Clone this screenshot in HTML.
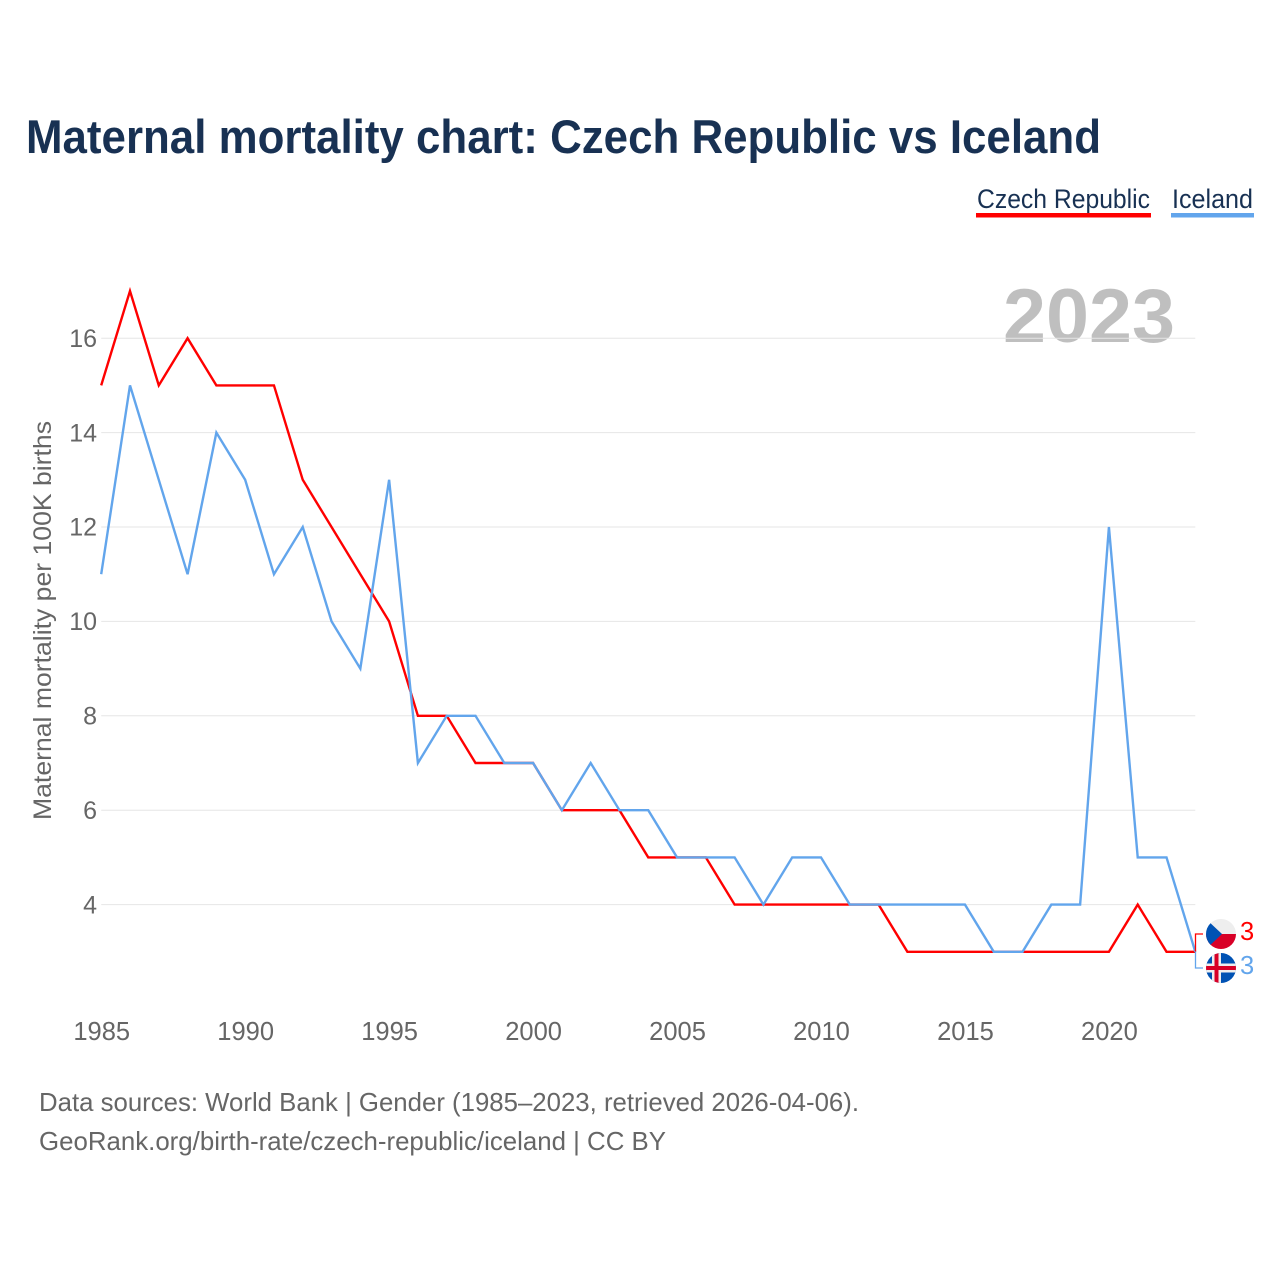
<!DOCTYPE html>
<html>
<head>
<meta charset="utf-8">
<title>Maternal mortality chart: Czech Republic vs Iceland</title>
<style>
html,body{margin:0;padding:0;background:#fff;}
svg{display:block;font-family:"Liberation Sans",sans-serif;}
</style>
</head>
<body>
<svg id="chart" width="1280" height="1280" viewBox="0 0 1280 1280" xmlns="http://www.w3.org/2000/svg">
  <defs>
    <clipPath id="flag-clip-cz"><circle cx="1221" cy="934" r="15"/></clipPath>
    <clipPath id="flag-clip-is"><circle cx="1221" cy="968" r="15"/></clipPath>
  </defs>
  <rect width="1280" height="1280" fill="#fff"/>
  <text x="26" y="153" font-size="47" font-weight="700" fill="#183153" textLength="1075" lengthAdjust="spacingAndGlyphs">Maternal mortality chart: Czech Republic vs Iceland</text>

  <g>
    <text x="977" y="208" font-size="27" fill="#183153" textLength="173" lengthAdjust="spacingAndGlyphs">Czech Republic</text>
    <rect x="976" y="213" width="175" height="4.5" fill="#ff0000"/>
  </g>
  <g>
    <text x="1172" y="208" font-size="27" fill="#183153" textLength="81" lengthAdjust="spacingAndGlyphs">Iceland</text>
    <rect x="1171" y="213" width="83" height="4.5" fill="#62a5ec"/>
  </g>

  <text x="1003" y="342" font-size="76" font-weight="700" fill="#000" fill-opacity="0.25" textLength="172" lengthAdjust="spacingAndGlyphs">2023</text>

  <g id="grid"></g>
  <g id="y-ticks"></g>
  <g id="x-ticks"></g>

  <text transform="translate(51 820) rotate(-90)" x="0" y="0" font-size="25" fill="#666" textLength="399" lengthAdjust="spacingAndGlyphs">Maternal mortality per 100K births</text>

  <g id="series"></g>

  <g>
    <path d="M1195.5 951.5V934H1203" fill="none" stroke="#ff0000" stroke-width="1.3"/>
  </g>
  <g>
    <path d="M1195.5 951.5V968H1203" fill="none" stroke="#62a5ec" stroke-width="1.3"/>
  </g>

  <g clip-path="url(#flag-clip-cz)">
    <rect x="1206" y="919" width="30" height="15" fill="#eeeeee"/>
    <rect x="1206" y="934" width="30" height="15" fill="#d80027"/>
    <path d="M1206 919L1222 934L1206 949Z" fill="#0052b4"/>
  </g>
  <g clip-path="url(#flag-clip-is)">
    <rect x="1206" y="953" width="30" height="30" fill="#0052b4"/>
    <rect x="1212" y="953" width="9" height="30" fill="#eeeeee"/>
    <rect x="1206" y="963.5" width="30" height="9" fill="#eeeeee"/>
    <rect x="1214.5" y="953" width="4" height="30" fill="#d80027"/>
    <rect x="1206" y="966" width="30" height="4" fill="#d80027"/>
  </g>
  <text x="1240" y="940" font-size="25.5" fill="#ff0000">3</text>
  <text x="1240" y="974" font-size="25.5" fill="#62a5ec">3</text>

  <text x="39" y="1111" font-size="26" fill="#666" textLength="820" lengthAdjust="spacingAndGlyphs">Data sources: World Bank | Gender (1985–2023, retrieved 2026-04-06).</text>
  <text x="39" y="1150" font-size="26" fill="#666" textLength="627" lengthAdjust="spacingAndGlyphs">GeoRank.org/birth-rate/czech-republic/iceland | CC BY</text>
</svg>
<script>
const years = [1985,1986,1987,1988,1989,1990,1991,1992,1993,1994,1995,1996,1997,1998,1999,2000,2001,2002,2003,2004,2005,2006,2007,2008,2009,2010,2011,2012,2013,2014,2015,2016,2017,2018,2019,2020,2021,2022,2023];
const czechRepublic = [15,17,15,16,15,15,15,13,12,11,10,8,8,7,7,7,6,6,6,5,5,5,4,4,4,4,4,4,3,3,3,3,3,3,3,3,4,3,3];
const iceland = [11,15,13,11,14,13,11,12,10,9,13,7,8,8,7,7,6,7,6,6,5,5,5,4,5,5,4,4,4,4,4,3,3,4,4,12,5,5,3];
const yTickValues = [4,6,8,10,12,14,16];
const xTickValues = [1985,1990,1995,2000,2005,2010,2015,2020];

const NS = 'http://www.w3.org/2000/svg';
const xScale = function (year) { return 101.2 + (year - 1985) * (1195.3 - 101.2) / 38; };
const yScale = function (value) { return 904.6 - (value - 4) * (904.6 - 338.2) / 12; };

const grid = document.getElementById('grid');
const yTicks = document.getElementById('y-ticks');
const xTicks = document.getElementById('x-ticks');
const seriesGroup = document.getElementById('series');

yTickValues.forEach(function (v) {
  const line = document.createElementNS(NS, 'line');
  
  
  line.setAttribute('x1', xScale(1985));
  line.setAttribute('x2', xScale(2023));
  line.setAttribute('y1', yScale(v));
  line.setAttribute('y2', yScale(v));
  line.setAttribute('stroke', '#e6e6e6');
  line.setAttribute('stroke-width', '1');
  grid.appendChild(line);

  const label = document.createElementNS(NS, 'text');
  
  
  label.setAttribute('x', 97);
  label.setAttribute('y', yScale(v) + 8.7);
  label.setAttribute('text-anchor', 'end');
  label.setAttribute('font-size', '25');
  label.setAttribute('fill', '#666');
  label.textContent = String(v);
  yTicks.appendChild(label);
});

xTickValues.forEach(function (y) {
  const label = document.createElementNS(NS, 'text');
  
  
  label.setAttribute('x', xScale(y) + 0.5);
  label.setAttribute('y', 1040);
  label.setAttribute('text-anchor', 'middle');
  label.setAttribute('font-size', '25.5');
  label.setAttribute('fill', '#666');
  label.textContent = String(y);
  xTicks.appendChild(label);
});

function pointsFor(values) {
  return values.map(function (v, i) {
    return xScale(years[i]).toFixed(2) + ',' + yScale(v).toFixed(2);
  }).join(' ');
}

const czechLine = document.createElementNS(NS, 'polyline');


czechLine.setAttribute('points', pointsFor(czechRepublic));
czechLine.setAttribute('fill', 'none');
czechLine.setAttribute('stroke', '#ff0000');
czechLine.setAttribute('stroke-width', '2.4');
seriesGroup.appendChild(czechLine);

const icelandLine = document.createElementNS(NS, 'polyline');


icelandLine.setAttribute('points', pointsFor(iceland));
icelandLine.setAttribute('fill', 'none');
icelandLine.setAttribute('stroke', '#62a5ec');
icelandLine.setAttribute('stroke-width', '2.4');
seriesGroup.appendChild(icelandLine);
</script>
</body>
</html>
